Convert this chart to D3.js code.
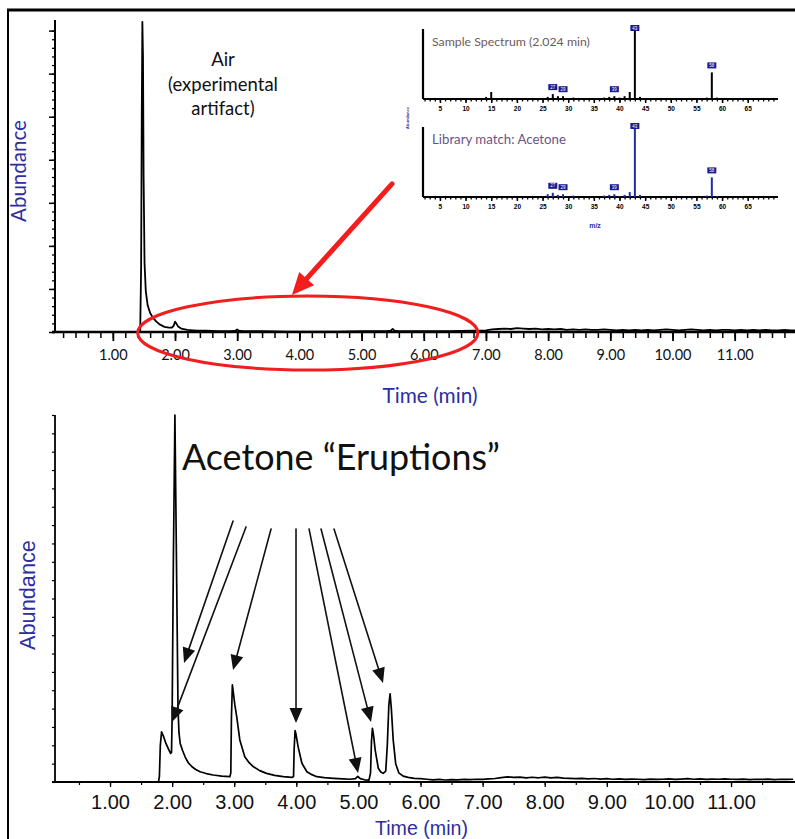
<!DOCTYPE html>
<html><head><meta charset="utf-8">
<script src="https://cdn.jsdelivr.net/npm/d3@7"></script>
<style>html,body{margin:0;padding:0;background:#fff;}svg{display:block;}</style>
</head><body>
<svg id="chart" width="795" height="839"></svg>
<script>
// ---------- DATA ----------
// Top chromatogram (time in min, abundance in arbitrary units)
const topTime = [1.40,1.44,1.455,1.465,1.475,1.485,1.495,1.51,1.53,1.56,1.60,1.65,1.70,1.76,1.83,1.90,1.95,1.98,2.00,2.02,2.05,2.10,2.20,2.35,2.50,2.70,2.90,2.97,3.00,3.03,3.10,3.40,3.80,4.20,4.60,5.00,5.40,5.47,5.50,5.53,5.60,6.00,6.40,6.80,
 6.9,7.0,7.1,7.2,7.3,7.4,7.5,7.6,7.7,7.8,7.9,8.0,8.1,8.2,8.3,8.4,8.5,8.6,8.7,8.8,8.9,9.0,9.1,9.2,9.3,9.4,9.5,9.6,9.7,9.8,9.9,10.0,10.1,10.2,10.3,10.4,10.5,10.6,10.7,10.8,10.9,11.0,11.1,11.2,11.3,11.4,11.5,11.6,11.7,11.8,11.9,12.0];
const topAbund = [0,0.02,1.5,5.0,7.2,6.4,3.6,1.6,0.95,0.62,0.44,0.32,0.24,0.17,0.12,0.10,0.10,0.15,0.24,0.20,0.13,0.08,0.05,0.03,0.03,0.02,0.02,0.03,0.06,0.03,0.02,0.02,0.01,0.01,0.01,0.02,0.02,0.03,0.07,0.03,0.02,0.02,0.02,0.03,
 0.03,0.04,0.06,0.07,0.08,0.07,0.09,0.08,0.07,0.08,0.06,0.07,0.06,0.07,0.05,0.06,0.05,0.06,0.05,0.05,0.06,0.05,0.04,0.05,0.04,0.05,0.04,0.05,0.04,0.05,0.06,0.05,0.04,0.05,0.06,0.05,0.04,0.05,0.04,0.05,0.05,0.04,0.05,0.04,0.05,0.04,0.05,0.04,0.04,0.05,0.04,0.04];

// Bottom chromatogram
const botTime = [1.78,1.795,1.81,1.83,1.86,1.90,1.94,1.975,1.99,2.00,2.02,2.045,2.07,2.095,2.11,2.13,2.17,2.21,2.26,2.32,2.38,2.45,2.55,2.66,2.80,2.93,2.945,2.955,2.97,2.985,3.01,3.04,3.09,3.17,3.24,3.31,3.41,3.52,3.65,3.79,3.93,3.955,3.965,3.98,3.995,4.03,4.09,4.17,4.25,4.33,4.45,4.60,4.75,4.87,4.95,4.99,5.03,5.10,5.17,5.195,5.21,5.225,5.245,5.27,5.32,5.36,5.40,5.44,5.465,5.49,5.51,5.53,5.56,5.60,5.65,5.72,5.80,5.90,6.00,
 6.1,6.2,6.3,6.4,6.5,6.6,6.7,6.8,6.9,7.0,7.1,7.2,7.3,7.4,7.5,7.6,7.7,7.8,7.9,8.0,8.1,8.2,8.3,8.4,8.5,8.6,8.7,8.8,8.9,9.0,9.1,9.2,9.3,9.4,9.5,9.6,9.7,9.8,9.9,10.0,10.1,10.2,10.3,10.4,10.5,10.6,10.7,10.8,10.9,11.0,11.1,11.2,11.3,11.4,11.5,11.6,11.7,11.8,11.9,12.0];
const botAbund = [0,0.3,2.0,2.73,2.5,2.1,1.8,1.56,1.6,3.5,12,20,12,4.0,2.7,2.1,1.7,1.36,1.05,0.83,0.68,0.56,0.46,0.38,0.32,0.29,0.5,3.5,5.29,4.9,4.2,3.56,2.29,1.38,1.05,0.83,0.62,0.47,0.36,0.29,0.25,0.3,1.8,2.8,2.6,1.9,1.02,0.56,0.4,0.29,0.24,0.2,0.17,0.15,0.18,0.3,0.18,0.12,0.1,0.5,2.2,2.93,2.5,1.74,0.75,0.55,0.47,0.6,2.0,4.2,4.8,4.0,2.3,1.0,0.5,0.32,0.25,0.2,0.18,
 0.15,0.12,0.14,0.11,0.13,0.12,0.14,0.13,0.15,0.14,0.17,0.19,0.24,0.28,0.25,0.27,0.22,0.26,0.23,0.27,0.22,0.25,0.21,0.20,0.18,0.20,0.17,0.19,0.16,0.18,0.15,0.17,0.14,0.16,0.15,0.13,0.16,0.14,0.15,0.17,0.14,0.16,0.18,0.15,0.17,0.14,0.16,0.15,0.17,0.15,0.14,0.16,0.13,0.15,0.14,0.16,0.13,0.15,0.14,0.15];

// Time tick labels
const timeTicks = [1,2,3,4,5,6,7,8,9,10,11];

// Mass spectra (m/z, relative abundance %)
const sampleMz  = [14,15,26,27,28,29,30,31,37,38,39,40,41,42,43,44,45,53,57,58,59];
const sampleInt = [3,10,3,7,4,4,1,2,2,3,4,2,4,10,100,3,1,1,2,38,2];
const libraryMz  = [26,27,28,29,31,37,38,39,40,41,42,43,44,57,58,59];
const libraryInt = [4,6,3,4,2,2,3,4,1,3,7,100,3,2,28,1];
const mzTicks = [5,10,15,20,25,30,35,40,45,50,55,60,65];
const sampleLabels  = [27,29,39,43,58];
const libraryLabels = [27,29,39,43,58];

// Annotations (data units)
const airLabel = ["Air","(experimental","artifact)"];
const redArrow = {t0:5.49, a0:3.44, t1:3.88, a1:0.86};
const redEllipse = {tStart:1.40, tEnd:6.87};
const eruptionArrows = [
  {t0:2.981,a0:14.22,t1:2.192,a1:6.49},
  {t0:3.190,a0:13.90,t1:1.998,a1:3.27},
  {t0:3.593,a0:13.79,t1:2.981,a1:6.10},
  {t0:3.995,a0:13.79,t1:3.995,a1:3.22},
  {t0:4.205,a0:13.79,t1:4.994,a1:0.49},
  {t0:4.398,a0:13.79,t1:5.203,a1:3.27},
  {t0:4.607,a0:13.79,t1:5.396,a1:5.40}
];

// ---------- DRAW ----------
const svg = d3.select("#chart");
const blue = "#2e2e9e";

function fit(sel, w){
  const L = sel.node().getComputedTextLength();
  const fs = parseFloat(sel.attr("font-size"));
  sel.attr("font-size", fs*w/L);
}
function arrow(g, x0,y0,x1,y1, L, W, color, sw){
  const dx=x1-x0, dy=y1-y0, d=Math.hypot(dx,dy), ux=dx/d, uy=dy/d;
  const bx=x1-ux*L, by=y1-uy*L;
  g.append("line").attr("x1",x0).attr("y1",y0).attr("x2",bx+ux*2).attr("y2",by+uy*2)
    .attr("stroke",color).attr("stroke-width",sw).attr("stroke-linecap","round");
  g.append("path").attr("d",`M${x1},${y1}L${bx-uy*W/2},${by+ux*W/2}L${bx+uy*W/2},${by-ux*W/2}Z`).attr("fill",color);
}

// frame
svg.append("line").attr("x1",7).attr("x2",795).attr("y1",10).attr("y2",10).attr("stroke","#000").attr("stroke-width",3);
svg.append("line").attr("x1",8).attr("x2",8).attr("y1",9).attr("y2",839).attr("stroke","#000").attr("stroke-width",2);

// ===== TOP CHART =====
const xTop = d3.scaleLinear().domain([0.07, 11.97]).range([55, 795]);
const yTop = d3.scaleLinear().domain([0, 7.2]).range([332, 22]);
const gT = svg.append("g");

gT.append("g").attr("transform","translate(55,0)")
  .call(d3.axisLeft(yTop).tickValues(d3.range(0,36).map(i=>i*0.2)).tickSize(3).tickFormat(""))
  .call(g=>{g.select(".domain").remove(); g.selectAll("line").attr("stroke","#000").attr("stroke-width",1.3);});
gT.append("g").attr("transform","translate(55,0)")
  .call(d3.axisLeft(yTop).tickValues([0,1,2,3,4,5,6,7]).tickSize(6).tickFormat(""))
  .call(g=>{g.select(".domain").remove(); g.selectAll("line").attr("stroke","#000").attr("stroke-width",1.5);});
gT.append("line").attr("x1",55).attr("x2",55).attr("y1",yTop(7.2)-2).attr("y2",yTop(0)).attr("stroke","#000").attr("stroke-width",2);

gT.append("g").attr("transform","translate(0,332)")
  .call(d3.axisBottom(xTop).tickValues(d3.range(1,60).map(i=>i*0.2)).tickSize(6).tickFormat(""))
  .call(g=>{g.select(".domain").remove(); g.selectAll("line").attr("stroke","#000").attr("stroke-width",1.5);});
gT.append("g").attr("transform","translate(0,332)")
  .call(d3.axisBottom(xTop).tickValues(timeTicks).tickSize(9).tickPadding(8.7).tickFormat(d3.format(".2f")))
  .call(g=>{g.select(".domain").remove(); g.selectAll("line").attr("stroke","#000").attr("stroke-width",1.8);
    g.selectAll("text").attr("font-family","Lato").attr("font-size",14.5).attr("fill","#111");});
gT.append("line").attr("x1",52).attr("x2",795).attr("y1",332).attr("y2",332).attr("stroke","#000").attr("stroke-width",2.4);

const topData = topTime.map((t,i)=>[t, topAbund[i]]);
gT.append("path").datum(topData)
  .attr("d", d3.line().x(d=>xTop(d[0])).y(d=>yTop(d[1])))
  .attr("fill","none").attr("stroke","#000").attr("stroke-width",1.8).attr("stroke-linejoin","round");

gT.append("text").text("Time (min)").attr("x",430).attr("y",403).attr("text-anchor","middle")
  .attr("font-family","Lato").attr("font-size",17).attr("fill",blue).call(s=>fit(s,95));
gT.append("text").text("Abundance").attr("transform","translate(26,171) rotate(-90)").attr("text-anchor","middle")
  .attr("font-family","Lato").attr("font-size",17).attr("fill",blue).call(s=>fit(s,102));
airLabel.forEach((s,i)=>{
  gT.append("text").text(s).attr("x",223).attr("y",66+i*24.5).attr("text-anchor","middle")
    .attr("font-family","Lato").attr("font-size",18.5).attr("fill","#111");
});

// ===== INSET SPECTRA =====
const mzX = d3.scaleLinear().domain([1.7, 70.9]).range([423, 778]);
function spectrum(base, top, mzs, ints, labels, color, title, titleW, titleColor){
  const y = d3.scaleLinear().domain([0,100]).range([base, top]);
  const g = svg.append("g");
  g.append("g").attr("transform",`translate(0,${base})`)
    .call(d3.axisBottom(mzX).tickValues(d3.range(2,71)).tickSize(2.5).tickFormat(""))
    .call(a=>{a.select(".domain").remove(); a.selectAll("line").attr("stroke","#000").attr("stroke-width",1.3);});
  g.append("g").attr("transform",`translate(0,${base})`)
    .call(d3.axisBottom(mzX).tickValues(mzTicks).tickSize(4).tickPadding(3))
    .call(a=>{a.select(".domain").remove(); a.selectAll("line").attr("stroke","#000").attr("stroke-width",1.5);
      a.selectAll("text").attr("font-family","Liberation Sans").attr("font-weight","bold").attr("font-size",6.5).attr("fill","#000");});
  g.append("line").attr("x1",423).attr("x2",778).attr("y1",base).attr("y2",base).attr("stroke","#000").attr("stroke-width",2);
  g.append("line").attr("x1",423).attr("x2",423).attr("y1",top).attr("y2",base).attr("stroke","#000").attr("stroke-width",2.2);
  mzs.forEach((m,i)=>{
    g.append("rect").attr("x",mzX(m)-1).attr("width",2).attr("y",y(ints[i])).attr("height",base-y(ints[i])).attr("fill",color);
  });
  labels.forEach(m=>{
    const v = ints[mzs.indexOf(m)];
    const cy = m===43 ? y(v)-1 : y(v)-7;
    g.append("rect").attr("x",mzX(m)-4.5).attr("y",cy-3).attr("width",9).attr("height",6).attr("fill","#1b1b8f");
    g.append("text").text(m).attr("x",mzX(m)).attr("y",cy+1.6).attr("text-anchor","middle")
      .attr("font-family","Liberation Sans").attr("font-size",4.5).attr("fill","#fff");
  });
  g.append("text").text(title).attr("x",432).attr("y",top+17).attr("font-family","Lato").attr("font-size",9.5)
    .attr("fill",titleColor).call(s=>fit(s,titleW));
}
spectrum(99, 29, sampleMz, sampleInt, sampleLabels, "#000", "Sample Spectrum (2.024 min)", 158, "#6e5a5a");
spectrum(197, 127, libraryMz, libraryInt, libraryLabels, "#1e2ca8", "Library match:  Acetone", 134, "#6a5585");
svg.append("text").text("Abundance").attr("transform","translate(409,118) rotate(-90)").attr("text-anchor","middle")
  .attr("font-family","Liberation Sans").attr("font-weight","bold").attr("font-size",4).attr("fill",blue);
svg.append("text").text("m/z").attr("x",595).attr("y",228).attr("text-anchor","middle")
  .attr("font-family","Liberation Sans").attr("font-weight","bold").attr("font-size",7).attr("fill",blue);

// red annotations
const gR = svg.append("g");
gR.append("ellipse").attr("cx",(xTop(redEllipse.tStart)+xTop(redEllipse.tEnd))/2).attr("cy",yTop(0)+1)
  .attr("rx",(xTop(redEllipse.tEnd)-xTop(redEllipse.tStart))/2).attr("ry",37)
  .attr("fill","none").attr("stroke","#f01e1e").attr("stroke-width",3);
arrow(gR, xTop(redArrow.t0), yTop(redArrow.a0), xTop(redArrow.t1), yTop(redArrow.a1), 22, 20, "#f41c1c", 5);

// ===== BOTTOM CHART =====
const xBot = d3.scaleLinear().domain([0.114, 12.03]).range([55, 795]);
const yBot = d3.scaleLinear().domain([0, 20]).range([782, 415]);
const gB = svg.append("g");
gB.append("g").attr("transform","translate(55,0)")
  .call(d3.axisLeft(yBot).tickValues(d3.range(0,21)).tickSize(3).tickFormat(""))
  .call(g=>{g.select(".domain").remove(); g.selectAll("line").attr("stroke","#000").attr("stroke-width",1.2);});
gB.append("line").attr("x1",55).attr("x2",55).attr("y1",yBot(20)).attr("y2",yBot(0)).attr("stroke","#000").attr("stroke-width",1.8);
gB.append("g").attr("transform","translate(0,782)")
  .call(d3.axisBottom(xBot).tickValues(d3.range(1,24).map(i=>i*0.5)).tickSize(3).tickFormat(""))
  .call(g=>{g.select(".domain").remove(); g.selectAll("line").attr("stroke","#000").attr("stroke-width",1.2);});
gB.append("g").attr("transform","translate(0,782)")
  .call(d3.axisBottom(xBot).tickValues(timeTicks).tickSize(5).tickPadding(7.8).tickFormat(d3.format(".2f")))
  .call(g=>{g.select(".domain").remove(); g.selectAll("line").attr("stroke","#000").attr("stroke-width",1.3);
    g.selectAll("text").attr("font-family","Liberation Sans").attr("font-size",20).attr("fill","#111");});
gB.append("line").attr("x1",52).attr("x2",795).attr("y1",782).attr("y2",782).attr("stroke","#000").attr("stroke-width",1.8);

const botData = botTime.map((t,i)=>[t, botAbund[i]]);
gB.append("path").datum(botData)
  .attr("d", d3.line().x(d=>xBot(d[0])).y(d=>yBot(d[1])))
  .attr("fill","none").attr("stroke","#000").attr("stroke-width",1.7).attr("stroke-linejoin","round");

gB.append("text").text("Time (min)").attr("x",421.5).attr("y",835).attr("text-anchor","middle")
  .attr("font-family","Liberation Sans").attr("font-size",19.5).attr("fill",blue).call(s=>fit(s,93));
gB.append("text").text("Abundance").attr("transform","translate(35,595) rotate(-90)").attr("text-anchor","middle")
  .attr("font-family","Liberation Sans").attr("font-size",21).attr("fill",blue).call(s=>fit(s,110));
gB.append("text").text("Acetone \u201cEruptions\u201d").attr("x",182).attr("y",470)
  .attr("font-family","Lato").attr("font-size",36).attr("fill","#111").call(s=>fit(s,318));

eruptionArrows.forEach(a=>{
  arrow(gB, xBot(a.t0), yBot(a.a0), xBot(a.t1), yBot(a.a1), 15, 13, "#111", 1.6);
});
</script>
</body></html>
